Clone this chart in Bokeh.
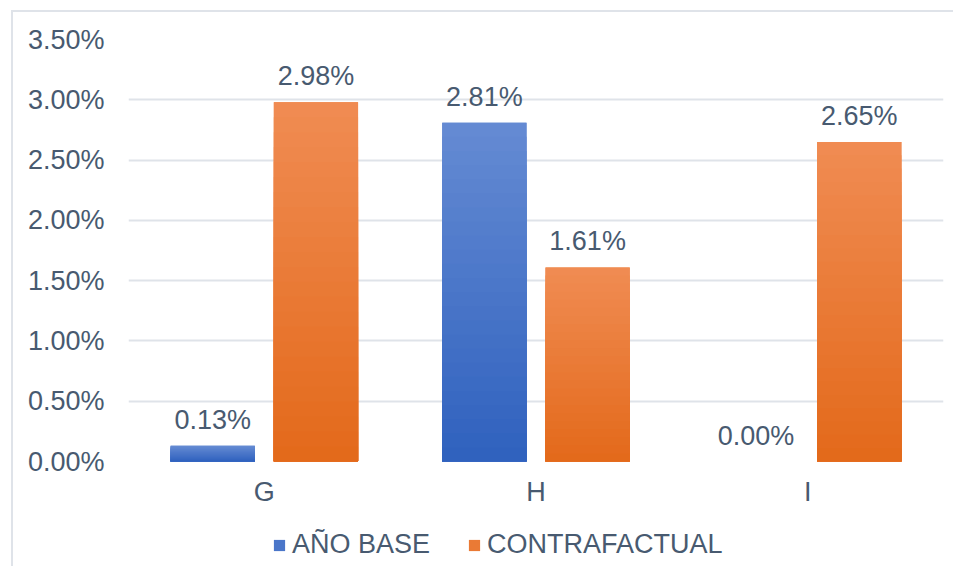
from bokeh.plotting import figure
from bokeh.layouts import column
from bokeh.models import FactorRange, Range1d, Legend, LegendItem, FixedTicker, ColumnDataSource
from bokeh.transform import dodge
from bokeh.core.properties import value
from bokeh.embed import file_html
from bokeh.resources import INLINE

categories = ["G", "H", "I"]
ano_base = [0.13, 2.81, 0.00]
contrafactual = [2.98, 1.61, 2.65]
y_ticks = [0.0, 0.5, 1.0, 1.5, 2.0, 2.5, 3.0, 3.5]
y_tick_labels = ["0.00%", "0.50%", "1.00%", "1.50%", "2.00%", "2.50%", "3.00%", "3.50%"]
series_names = ["AÑO BASE", "CONTRAFACTUAL"]

TEXT = "#485a70"
GRID = "#dfe3e9"
BLUE = "#4a76c9"
ORANGE = "#ea7a35"
BLUE_TOP, BLUE_BOT = (0x65, 0x8b, 0xd3), (0x2f, 0x61, 0xbe)
ORANGE_TOP, ORANGE_BOT = (0xf0, 0x8c, 0x53), (0xe3, 0x69, 0x1a)
FONT = "Liberation Sans"
FS = "27px"
N_SHADE = 24

src = ColumnDataSource(dict(
    cat=categories,
    base=ano_base,
    contra=contrafactual,
    base_lbl=[f"{v:.2f}%" for v in ano_base],
    contra_lbl=[f"{v:.2f}%" for v in contrafactual],
))


def shade_source(vals, top_rgb, bot_rgb):
    # vertical gradient: nested bars from the base, lightest (full height) drawn first
    xs, tops, cols = [], [], []
    for k in reversed(range(N_SHADE)):
        t = (k + 0.5) / N_SHADE
        rgb = tuple(round(b + (a - b) * t) for a, b in zip(top_rgb, bot_rgb))
        col = "#%02x%02x%02x" % rgb
        for c, v in zip(categories, vals):
            xs.append(c)
            tops.append(v * (k + 1) / N_SHADE)
            cols.append(col)
    return ColumnDataSource(dict(cat=xs, top=tops, color=cols))


W, H = 940, 504
p = figure(
    x_range=FactorRange(*categories, range_padding=0),
    y_range=Range1d(0, 3.5),
    width=W, height=H,
    output_backend="svg", toolbar_location=None,
    min_border_left=115, min_border_right=W - 930,
    min_border_top=27, min_border_bottom=H - 449,
)
p.outline_line_color = None
p.background_fill_color = "white"
p.border_fill_color = "white"

r1 = p.vbar(x=dodge("cat", -0.19, range=p.x_range), top="base", width=0.31,
            source=src, fill_color=BLUE, line_color=None)
r2 = p.vbar(x=dodge("cat", 0.19, range=p.x_range), top="contra", width=0.31,
            source=src, fill_color=ORANGE, line_color=None)
p.vbar(x=dodge("cat", -0.19, range=p.x_range), top="top", width=0.31,
       source=shade_source(ano_base, BLUE_TOP, BLUE_BOT), fill_color="color", line_color=None)
p.vbar(x=dodge("cat", 0.19, range=p.x_range), top="top", width=0.31,
       source=shade_source(contrafactual, ORANGE_TOP, ORANGE_BOT), fill_color="color", line_color=None)

for off, col in ((-0.19, "base"), (0.19, "contra")):
    p.text(x=dodge("cat", off, range=p.x_range), y=col, text=col + "_lbl", source=src,
           text_align="center", text_baseline="alphabetic", y_offset=-26,
           text_font=value(FONT), text_font_size=FS, text_color=TEXT)

p.xgrid.grid_line_color = None
p.ygrid.grid_line_color = GRID
p.ygrid.grid_line_width = 2
p.yaxis.ticker = FixedTicker(ticks=y_ticks)
p.yaxis.major_label_overrides = {t: l for t, l in zip(y_ticks, y_tick_labels)}

for ax in (p.xaxis[0], p.yaxis[0]):
    ax.axis_line_color = None
    ax.major_tick_line_color = None
    ax.minor_tick_line_color = None
    ax.major_tick_out = 0
    ax.major_tick_in = 0
    ax.major_label_text_font = FONT
    ax.major_label_text_font_size = FS
    ax.major_label_text_color = TEXT
p.yaxis.major_label_standoff = 24
p.xaxis.major_label_standoff = 15

# legend strip (separate figure so the legend sits below the axis labels)
leg = figure(
    x_range=p.x_range, y_range=Range1d(10, 11),
    width=W, height=50,
    output_backend="svg", toolbar_location=None,
    x_axis_location=None, y_axis_location=None,
    min_border=0,
)
leg.outline_line_color = None
leg.grid.grid_line_color = None
leg.border_fill_color = "white"
l1 = leg.vbar(x=dodge("cat", -0.19, range=leg.x_range), top="base", width=0.31,
              source=src, fill_color=BLUE, line_color=None)
l2 = leg.vbar(x=dodge("cat", 0.19, range=leg.x_range), top="contra", width=0.31,
              source=src, fill_color=ORANGE, line_color=None)

legend = Legend(
    items=[LegendItem(label=series_names[0], renderers=[l1]),
           LegendItem(label=series_names[1], renderers=[l2])],
    orientation="horizontal", location=(144, 6),
    glyph_width=14, glyph_height=14, label_standoff=6, spacing=37,
    label_text_font=FONT, label_text_font_size=FS, label_text_color=TEXT,
    label_height=30, padding=0, margin=0,
    border_line_color=None, background_fill_alpha=0,
)
leg.add_layout(legend, "center")

layout = column(p, leg, spacing=0)
layout.styles = {"border-top": "2px solid " + GRID, "border-left": "2px solid " + GRID,
                 "margin-left": "11px", "margin-top": "10px"}

open("out.html", "w").write(file_html(layout, INLINE))
